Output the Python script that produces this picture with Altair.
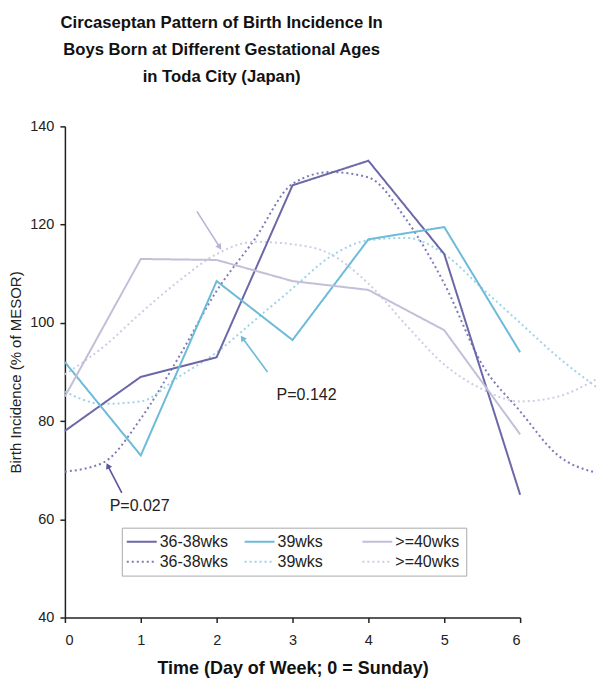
import altair as alt
import pandas as pd

# ---- data ----
days_obs = [0, 1, 2, 3, 4, 5, 6]
obs_36_38 = [78, 89, 93, 128, 133, 114, 65]
obs_39 = [92, 73, 108.5, 96.5, 117, 119.5, 94]
obs_40 = [85, 113, 112.8, 108.5, 106.7, 98.5, 77.3]

days_fit = [0, 0.5, 1, 1.5, 2, 2.5, 3, 3.5, 4, 4.5, 5, 5.5, 6, 6.5, 7]
fit_36_38 = [69.7, 71.5, 80.5, 93, 106.5, 117, 128.3, 130.7, 129.6, 121, 108, 91.5, 82, 73, 69.5]
fit_39 = [86, 83.5, 84, 89, 94, 100.5, 107, 113.5, 116.8, 117.3, 114, 107, 100, 93, 87]
fit_40 = [89.5, 95, 102, 108.5, 114, 116.5, 116, 114, 108, 99.5, 91.5, 86.5, 84, 85, 88.5]

series = ["36-38wks", "39wks", ">=40wks"]
fit_series = ["36-38wks fit", "39wks fit", ">=40wks fit"]
# legend fills column by column: order pairs so rows read solid / dotted
domain = ["36-38wks", "36-38wks fit", "39wks", "39wks fit", ">=40wks", ">=40wks fit"]
colors = ["#6c68a8", "#7f7bb5", "#6dbbd8", "#9fd3ea", "#c2bfd9", "#cfcce4"]
dashes = [[1, 0], [2, 3], [1, 0], [2, 3], [1, 0], [2, 3]]

title_lines = [
    "Circaseptan Pattern of Birth Incidence In",
    "Boys Born at Different Gestational Ages\u2003",
    "in Toda City (Japan)",
]
x_title = "Time (Day of Week; 0 = Sunday)"
y_title = "Birth Incidence (% of MESOR)"
x_ticks = [0, 1, 2, 3, 4, 5, 6]
y_ticks = [40, 60, 80, 100, 120, 140]

# annotation arrows (tail -> head) in data units
arrow_x = [1.74, 2.67, 0.75]
arrow_y = [122.7, 90.0, 65.4]
arrow_x2 = [2.04, 2.34, 0.566]
arrow_y2 = [115.4, 96.9, 70.9]
arrow_colors = ["#b8b4d6", "#6dbbd8", "#5a55a0"]
arrow_angles = [147, 324, 333]

p_labels = ["P=0.142", "P=0.027"]
p_x = [2.79, 0.59]
p_y = [85.3, 62.8]

FONT = "Liberation Sans"

# ---- tables ----
rows_obs = []
for name, vals in zip(series, [obs_36_38, obs_39, obs_40]):
    for d, v in zip(days_obs, vals):
        rows_obs.append({"day": d, "value": v, "series": name})
df_obs = pd.DataFrame(rows_obs)

rows_fit = []
for name, vals in zip(fit_series, [fit_36_38, fit_39, fit_40]):
    for d, v in zip(days_fit, vals):
        rows_fit.append({"day": d, "value": v, "series": name})
df_fit = pd.DataFrame(rows_fit)

xs = alt.Scale(domain=[0, 6], nice=False, zero=False)
ys = alt.Scale(domain=[40, 140], nice=False, zero=False)

x_enc = alt.X("day:Q", scale=xs, axis=alt.Axis(
    values=x_ticks, format="d", title=x_title, grid=False,
    labelFontSize=14.5, labelPadding=11, labelColor="#222", labelFont=FONT,
    titleFontSize=18, titleFontWeight="bold", titlePadding=13, titleFont=FONT, titleColor="#111",
    domainColor="#222", domainWidth=1.5, tickColor="#222", tickWidth=1.5, tickSize=5))
y_enc = alt.Y("value:Q", scale=ys, axis=alt.Axis(
    values=y_ticks, title=y_title, grid=False,
    labelFontSize=14.5, labelPadding=6, labelColor="#222", labelFont=FONT,
    titleFontSize=15, titleFontWeight="normal", titlePadding=6, titleFont=FONT, titleColor="#222",
    domainColor="#222", domainWidth=1.5, tickColor="#222", tickWidth=1.5, tickSize=5))

legend = alt.Legend(
    title=None, orient="none", legendX=57, legendY=402, columns=3, gridAlign="all",
    columnPadding=12, rowPadding=4, padding=6, strokeColor="#aaaaaa",
    symbolType="M-1.8,0H4.2", symbolSize=100, symbolStrokeWidth=2, labelOffset=16,
    labelFontSize=16, labelFont=FONT, labelColor="#222",
    labelExpr="replace(datum.label, ' fit', '')")

color_enc = alt.Color("series:N", scale=alt.Scale(domain=domain, range=colors), legend=legend)
dash_enc = alt.StrokeDash("series:N", scale=alt.Scale(domain=domain, range=dashes), legend=legend)

fit_layer = alt.Chart(df_fit).mark_line(strokeWidth=2, interpolate="monotone", strokeCap="butt").encode(
    x=x_enc, y=y_enc, color=color_enc, strokeDash=dash_enc)
obs_layer = alt.Chart(df_obs).mark_line(strokeWidth=2).encode(
    x=x_enc, y=y_enc, color=color_enc, strokeDash=dash_enc)

layers = [fit_layer, obs_layer]
for i in range(3):
    adf = pd.DataFrame({"x": [arrow_x[i]], "y": [arrow_y[i]], "x2": [arrow_x2[i]], "y2": [arrow_y2[i]]})
    layers.append(alt.Chart(adf).mark_rule(color=arrow_colors[i], strokeWidth=1.6).encode(
        x=alt.X("x:Q", scale=xs), y=alt.Y("y:Q", scale=ys), x2="x2:Q", y2="y2:Q"))
    layers.append(alt.Chart(adf).mark_point(shape="triangle-up", filled=True, size=45, opacity=1,
                                            angle=arrow_angles[i], color=arrow_colors[i]).encode(
        x=alt.X("x2:Q", scale=xs), y=alt.Y("y2:Q", scale=ys)))

tdf = pd.DataFrame({"x": p_x, "y": p_y, "t": p_labels})
layers.append(alt.Chart(tdf).mark_text(align="left", baseline="middle", fontSize=16, font=FONT, color="#222").encode(
    x=alt.X("x:Q", scale=xs), y=alt.Y("y:Q", scale=ys), text="t:N"))

chart = alt.layer(*layers).properties(
    width=456, height=492,
    title=alt.TitleParams(text=title_lines, anchor="start", frame="group", align="center", dx=157,
                          fontSize=16.7, font=FONT, fontWeight="bold", lineHeight=27, offset=16,
                          baseline="bottom", color="#111"),
    padding={"left": 57, "top": 118, "right": 76, "bottom": 60},
    autosize=alt.AutoSizeParams(type="none"),
).configure_view(stroke=None)

chart.save("out.html", embed_options={"renderer": "svg", "actions": False})
